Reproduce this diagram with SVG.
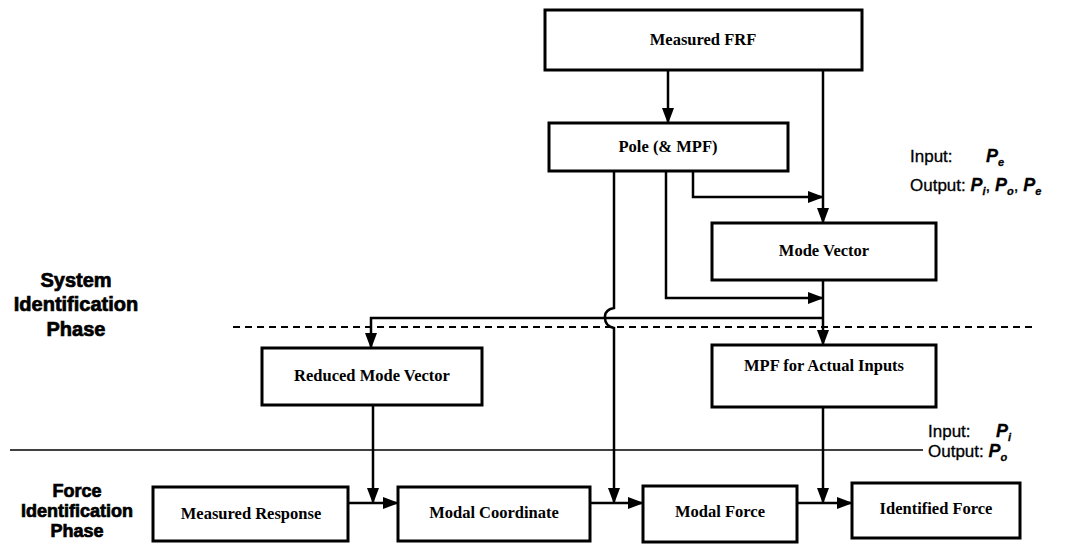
<svg xmlns="http://www.w3.org/2000/svg" width="1076" height="545" viewBox="0 0 1076 545">
<style>
.box{fill:#fff;stroke:#000;stroke-width:3}
.bt{font-family:"Liberation Serif",serif;font-weight:bold;font-size:16.5px;text-anchor:middle;fill:#000}
.ph{font-family:"Liberation Sans",sans-serif;font-weight:bold;font-size:20px;text-anchor:middle;fill:#000;stroke:#000;stroke-width:0.7}
.ph2{font-size:18px}
.io{font-family:"Liberation Sans",sans-serif;font-size:17px;fill:#000;stroke:#000;stroke-width:0.3}
.pv{font-family:"Liberation Sans",sans-serif;font-size:18px;font-weight:bold;font-style:italic}
.sub{font-size:11px}
.c{fill:none;stroke:#000;stroke-width:2.5}
</style>
<defs>
<marker id="ah" markerWidth="16" markerHeight="12" refX="15" refY="6" orient="auto" markerUnits="userSpaceOnUse">
<path d="M0,0 L16,6 L0,12 Z" fill="#000"/>
</marker>
</defs>
<g id="separators">
<line x1="233" y1="327" x2="1032" y2="327" stroke="#000" stroke-width="2" stroke-dasharray="7,5"/>
<line x1="10" y1="450" x2="923" y2="450" stroke="#000" stroke-width="1.5"/>
</g>
<g id="connectors">
<path class="c" d="M668,70 V123" marker-end="url(#ah)"/>
<path class="c" d="M823,70 V223" marker-end="url(#ah)"/>
<path class="c" d="M693,171 V197 H823" marker-end="url(#ah)"/>
<path class="c" d="M666,171 V298 H823" marker-end="url(#ah)"/>
<path class="c" d="M823,280 V345" marker-end="url(#ah)"/>
<path class="c" d="M823,318 H371 V348" marker-end="url(#ah)"/>
<path class="c" d="M614,171 V308 Q604,310 605,318 Q605,326 614,328 V503" marker-end="url(#ah)"/>
<path class="c" d="M373,405 V503" marker-end="url(#ah)"/>
<path class="c" d="M348,503 H398" marker-end="url(#ah)"/>
<path class="c" d="M590,503 H643" marker-end="url(#ah)"/>
<path class="c" d="M797,503 H852" marker-end="url(#ah)"/>
<path class="c" d="M823,407 V503" marker-end="url(#ah)"/>
</g>
<g id="n-frf"><rect class="box" x="545" y="10" width="317" height="60"/><text class="bt" x="703" y="45">Measured FRF</text></g>
<g id="n-pole"><rect class="box" x="549" y="123" width="239" height="48"/><text class="bt" x="668" y="152">Pole (&amp; MPF)</text></g>
<g id="n-mode"><rect class="box" x="712" y="223" width="224" height="57"/><text class="bt" x="824" y="256">Mode Vector</text></g>
<g id="n-mpf"><rect class="box" x="712" y="345" width="224" height="62"/><text class="bt" x="824" y="371">MPF for Actual Inputs</text></g>
<g id="n-rmv"><rect class="box" x="262" y="348" width="220" height="57"/><text class="bt" x="372" y="381">Reduced Mode Vector</text></g>
<g id="n-mr"><rect class="box" x="153" y="487" width="195" height="54"/><text class="bt" x="251" y="519">Measured Response</text></g>
<g id="n-mc"><rect class="box" x="398" y="487" width="192" height="54"/><text class="bt" x="494" y="518">Modal Coordinate</text></g>
<g id="n-mf"><rect class="box" x="643" y="486" width="154" height="56"/><text class="bt" x="720" y="517">Modal Force</text></g>
<g id="n-if"><rect class="box" x="852" y="483" width="168" height="55"/><text class="bt" x="936" y="514">Identified Force</text></g>
<g id="labels">
<text class="ph"><tspan x="76" y="287">System</tspan><tspan x="76" y="311">Identification</tspan><tspan x="76" y="336">Phase</tspan></text>
<text class="ph ph2"><tspan x="77" y="497">Force</tspan><tspan x="77" y="517">Identification</tspan><tspan x="77" y="537">Phase</tspan></text>
<text class="io" x="910" y="162">Input:<tspan class="pv" x="986">P</tspan><tspan class="pv sub" dy="4">e</tspan></text>
<text class="io" x="910" y="191">Output: <tspan class="pv">P</tspan><tspan class="pv sub" dy="4">i</tspan><tspan dy="-4">, </tspan><tspan class="pv">P</tspan><tspan class="pv sub" dy="4">o</tspan><tspan dy="-4">, </tspan><tspan class="pv">P</tspan><tspan class="pv sub" dy="4">e</tspan></text>
<text class="io" x="928" y="437">Input:<tspan class="pv" x="996">P</tspan><tspan class="pv sub" dy="4">i</tspan></text>
<text class="io" x="928" y="457">Output: <tspan class="pv">P</tspan><tspan class="pv sub" dy="4">o</tspan></text>
</g>
</svg>
